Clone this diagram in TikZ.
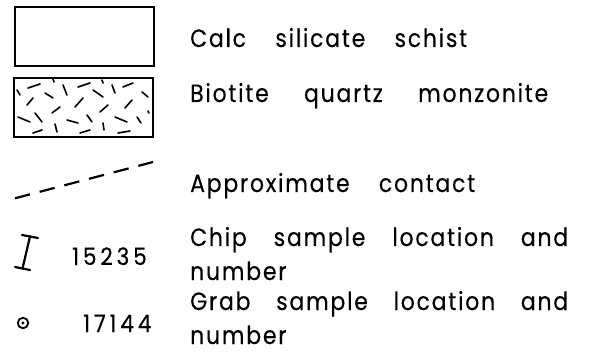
\documentclass[tikz,border=0pt]{standalone}
\usepackage{fontspec}
\setmainfont{Poppins}[LetterSpace=7, FakeStretch=0.88, FakeBold=0.3]
\newfontfamily\digitfont{Poppins}[LetterSpace=16, FakeStretch=0.9, FakeBold=0.3]
\newcommand\spreadline[2]{\makebox[#1][s]{#2}}
\tikzset{
  unitbox/.style={draw, line width=2pt, minimum width=139pt, minimum height=59pt, inner sep=0pt},
  legendtext/.style={anchor=base west, inner sep=0pt, font=\fontsize{25}{30}\selectfont},
  numbertext/.style={anchor=base west, inner sep=0pt, font=\digitfont\fontsize{24}{28}\selectfont},
  grain/.style={line width=1.6pt, line cap=round},
  contact/.style={line width=2.2pt, dash pattern=on 15.5pt off 10pt},
  symbolline/.style={line width=2.2pt, line cap=round}
}
\begin{document}
\begin{tikzpicture}[x=1pt, y=-1pt]
\useasboundingbox (0,0) rectangle (593,352);

% map units
\node[unitbox] (schist) at (84,37) {};
\node[unitbox] (monzonite) at (83.5,107.5) {};

% random mineral grains in the monzonite
\foreach \ax/\ay/\bx/\by in {
  17/90/20/95, 28/88/40/84, 53/79/54/82, 45/93/53/98, 63/85/67/95,
  78/87/90/83, 102/80/103/83, 93/90/103/97, 112/85/115/93, 123/87/133/83,
  142/92/148/97, 27/105/33/98, 52/113/60/107, 75/107/83/98, 100/112/108/105,
  125/108/132/100, 35/113/42/122, 18/117/30/122, 67/120/78/123, 87/115/92/122,
  115/117/127/122, 137/117/141/123, 55/124/57/132, 103/123/104/130,
  148/111/149/113, 33/133/42/130, 80/133/90/130, 118/133/130/131}
  \draw[grain] (\ax,\ay) -- (\bx,\by);

% approximate contact
\coordinate (c1) at (15,198.3);
\coordinate (c2) at (153,162);
\draw[contact] (c1) -- (c2);

% chip sample symbol
\coordinate (chiptop) at (30,236.5);
\coordinate (chipbot) at (22.5,268.5);
\draw[symbolline] (22,235) -- (38,238);
\draw[symbolline] (chiptop) -- (chipbot);
\draw[symbolline] (15,267) -- (30,270);

% grab sample symbol
\node[circle, draw, line width=1.8pt, minimum size=10.5pt, inner sep=0pt] (grab) at (23,323) {};
\fill (grab.center) circle (1.6pt);

% labels
\node[legendtext] (t1) at (190,47) {\spreadline{277pt}{Calc silicate schist}};
\node[legendtext] (t2) at (190,102) {\spreadline{358pt}{Biotite quartz monzonite}};
\node[legendtext] (t3) at (190,192) {\spreadline{285pt}{Approximate contact}};
\node[legendtext] (t4) at (190,246) {\spreadline{378pt}{Chip sample location and}};
\node[legendtext] (t5) at (190,280) {number};
\node[legendtext] (t6) at (190,310) {\spreadline{378pt}{Grab sample location and}};
\node[legendtext] (t7) at (190,344) {number};
\node[numbertext] (n1) at (72,265) {15235};
\node[numbertext] (n2) at (83,332) {17144};
\end{tikzpicture}
\end{document}
